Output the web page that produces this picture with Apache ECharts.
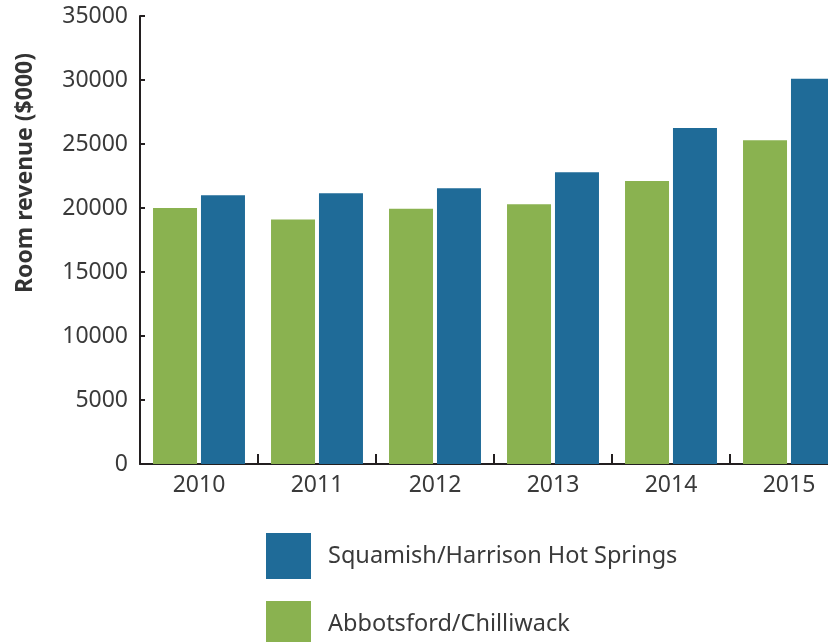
<!DOCTYPE html>
<html>
<head>
<meta charset="utf-8">
<script src="https://cdn.jsdelivr.net/npm/echarts@6/dist/echarts.min.js"></script>
<style>
html,body{margin:0;padding:0;background:#fff;}
#chart{width:828px;height:642px;}
</style>
</head>
<body>
<div id="chart"></div>
<script>
const categories = ['2010', '2011', '2012', '2013', '2014', '2015'];
const abbotsford = [20000, 19100, 19950, 20300, 22100, 25300];
const squamish = [21000, 21150, 21550, 22800, 26250, 30100];
const seriesNames = ['Abbotsford/Chilliwack', 'Squamish/Harrison Hot Springs'];
const yAxisTitle = 'Room revenue ($000)';

const FONT = '"Noto Sans", "Open Sans", sans-serif';
const legendText = { fontFamily: FONT, fontSize: 23.5, color: '#3a3a3a', padding: [0, 0, 0, 12] };
const chart = echarts.init(document.getElementById('chart'));
chart.setOption({
  animation: false,
  backgroundColor: '#ffffff',
  grid: { left: 140, top: 16, width: 708, bottom: 178, containLabel: false, outerBoundsMode: 'none' },
  legend: [{
    orient: 'vertical', left: 261, top: 528, itemWidth: 45, itemHeight: 46, icon: 'rect',
    data: [seriesNames[1]], textStyle: legendText
  }, {
    orient: 'vertical', left: 261, top: 596, itemWidth: 45, itemHeight: 46, icon: 'rect',
    data: [seriesNames[0]], textStyle: legendText
  }],
  xAxis: {
    type: 'category',
    data: categories,
    axisLine: { lineStyle: { color: '#231f20', width: 2 } },
    axisTick: { show: true, inside: true, length: 10, interval: 0, lineStyle: { color: '#231f20', width: 2 } },
    axisLabel: { fontFamily: FONT, fontSize: 23, color: '#3a3a3a', margin: 10 }
  },
  yAxis: {
    type: 'value',
    min: 0,
    max: 35000,
    interval: 5000,
    axisLine: { show: true, lineStyle: { color: '#231f20', width: 2 } },
    axisTick: { show: true, inside: true, length: 5, lineStyle: { color: '#231f20', width: 2 } },
    splitLine: { show: false },
    axisLabel: { fontFamily: FONT, fontSize: 23, color: '#3a3a3a', margin: 12, formatter: v => String(v) }
  },
  graphic: [{
    type: 'text',
    left: 14,
    top: 53,
    rotation: Math.PI / 2,
    style: { text: yAxisTitle, fontFamily: FONT, fontSize: 23, fontWeight: 'bold', fill: '#333333' }
  }],
  series: [
    { name: seriesNames[0], type: 'bar', data: abbotsford, barWidth: 44, barGap: '9%',
      itemStyle: { color: '#8ab250' } },
    { name: seriesNames[1], type: 'bar', data: squamish, barWidth: 44, barGap: '9%',
      itemStyle: { color: '#1f6b98' } }
  ]
});
</script>
</body>
</html>
